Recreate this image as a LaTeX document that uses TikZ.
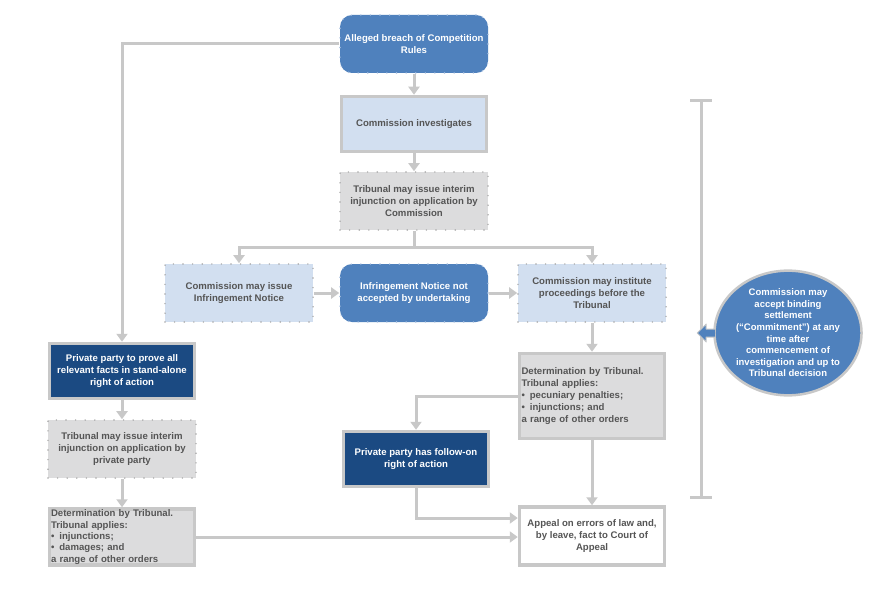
\documentclass[tikz,border=0pt]{standalone}
\usepackage{fontspec}
\setmainfont{Liberation Sans}
\usetikzlibrary{arrows.meta,calc,shapes.geometric}
\definecolor{midblue}{HTML}{4F81BD}
\definecolor{darkblue}{HTML}{1B4A82}
\definecolor{lightblue}{HTML}{D2DFF0}
\definecolor{lightgray}{HTML}{DCDCDD}
\definecolor{bordgray}{HTML}{C8C8C8}
\definecolor{txtgray}{HTML}{555555}
\definecolor{dotgray}{HTML}{A8A8A8}
\definecolor{dotblue}{HTML}{A9C0E0}
\tikzset{
  base/.style={font=\bfseries\fontsize{9.6}{11.9}\selectfont, align=center, inner sep=0pt,
    minimum width=148pt, minimum height=58pt, text=txtgray},
  dotbox/.style={base, draw=dotgray, line width=1.6pt, line cap=round, dash pattern=on 0pt off 9.6pt},
  bluedot/.style={dotbox, fill=lightblue},
  graydot/.style={dotbox, fill=lightgray},
  roundblue/.style={base, fill=midblue, text=white, draw=dotblue, line width=1.6pt, line cap=round,
    dash pattern=on 0pt off 9.6pt, rounded corners=12pt},
  thickbox/.style={base, draw=bordgray, line width=3.5pt, minimum width=145pt, minimum height=55pt},
  conn/.style={draw=bordgray, line width=3pt, -{Triangle[width=11pt,length=8pt]}},
  plainline/.style={draw=bordgray, line width=3pt},
}
\begin{document}
\begin{tikzpicture}[x=1pt,y=-1pt]
\useasboundingbox (0,0) rectangle (883,591);
\fill[white] (0,0) rectangle (883,591);

\node[roundblue] (alleged) at (414,44) {Alleged breach of Competition\\Rules};
\node[thickbox, fill=lightblue] (invest) at (414,124) {Commission investigates};
\node[graydot] (interim1) at (414,201) {Tribunal may issue interim\\injunction on application by\\Commission};
\node[bluedot] (infnot) at (239,293) {Commission may issue\\Infringement Notice};
\node[roundblue] (notacc) at (414,293) {Infringement Notice not\\accepted by undertaking};
\node[bluedot] (instit) at (592,293) {Commission may institute\\proceedings before the\\Tribunal};
\node[thickbox, fill=lightgray, minimum height=85pt, align=left, text width=141pt] (detR) at (592,396)
  {Determination by Tribunal.\\Tribunal applies:\\\textbullet\hspace{5pt}pecuniary penalties;\\\textbullet\hspace{5pt}injunctions; and\\a range of other orders};
\node[thickbox, fill=darkblue, text=white] (follow) at (416,459) {Private party has follow-on\\right of action};
\node[thickbox, fill=white, minimum height=58pt] (appeal) at (592,536) {Appeal on errors of law and,\\by leave, fact to Court of\\Appeal};
\node[thickbox, fill=darkblue, text=white] (prove) at (122,371) {Private party to prove all\\relevant facts in stand-alone\\right of action};
\node[graydot] (interim2) at (122,449) {Tribunal may issue interim\\injunction on application by\\private party};
\node[thickbox, fill=lightgray, minimum height=56pt, align=left, text width=142pt,
  font=\bfseries\fontsize{9.6}{11.4}\selectfont] (detL) at (122,537)
  {Determination by Tribunal.\\Tribunal applies:\\\textbullet\hspace{5pt}injunctions;\\\textbullet\hspace{5pt}damages; and\\a range of other orders};

\node[ellipse, fill=midblue, draw=bordgray, line width=2.5pt, minimum width=137pt, minimum height=120pt,
  inner sep=0pt, text=white, align=center, font=\bfseries\fontsize{9.5}{11.6}\selectfont] (ell) at (788,333)
  {Commission may\\accept binding\\settlement\\(“Commitment”) at any\\time after\\commencement of\\investigation and up to\\Tribunal decision};

% bracket
\coordinate (btop) at (701,101);
\coordinate (bbot) at (701,497);
\draw[plainline] (btop) -- (bbot);
\draw[plainline] ($(btop)+(-11,0)$) -- ($(btop)+(11,0)$);
\draw[plainline] ($(bbot)+(-11,0)$) -- ($(bbot)+(11,0)$);

% block arrow from ellipse
\filldraw[fill=midblue, draw=bordgray, line width=1pt, line join=round]
  ($(ell.west)+(2,-4)$) -- ($(ell.west)+(-7,-4)$) -- ($(ell.west)+(-7,-9)$) -- ($(ell.west)+(-16,0)$)
  -- ($(ell.west)+(-7,9)$) -- ($(ell.west)+(-7,4)$) -- ($(ell.west)+(2,4)$);

% connectors
\draw[conn] (alleged.west) -| (prove.north);
\draw[conn] (alleged) -- (invest);
\draw[conn] (invest) -- (interim1);
\coordinate (split) at ($(interim1.south)+(0,17)$);
\draw[plainline] (interim1.south) -- (split);
\draw[conn] (split) -| (infnot.north);
\draw[conn] (split) -| (instit.north);
\draw[conn] (infnot) -- (notacc);
\draw[conn] (notacc) -- (instit);
\draw[conn] (instit) -- (detR);
\draw[conn] (detR.west) -| (follow.north);
\draw[conn] (detR) -- (appeal);
\draw[conn] (follow.south) |- ($(appeal.west)+(0,-18)$);
\draw[conn] (detL.east) -- (detL.east -| appeal.west);
\draw[conn] (prove) -- (interim2);
\draw[conn] (interim2) -- (detL);
\end{tikzpicture}
\end{document}
